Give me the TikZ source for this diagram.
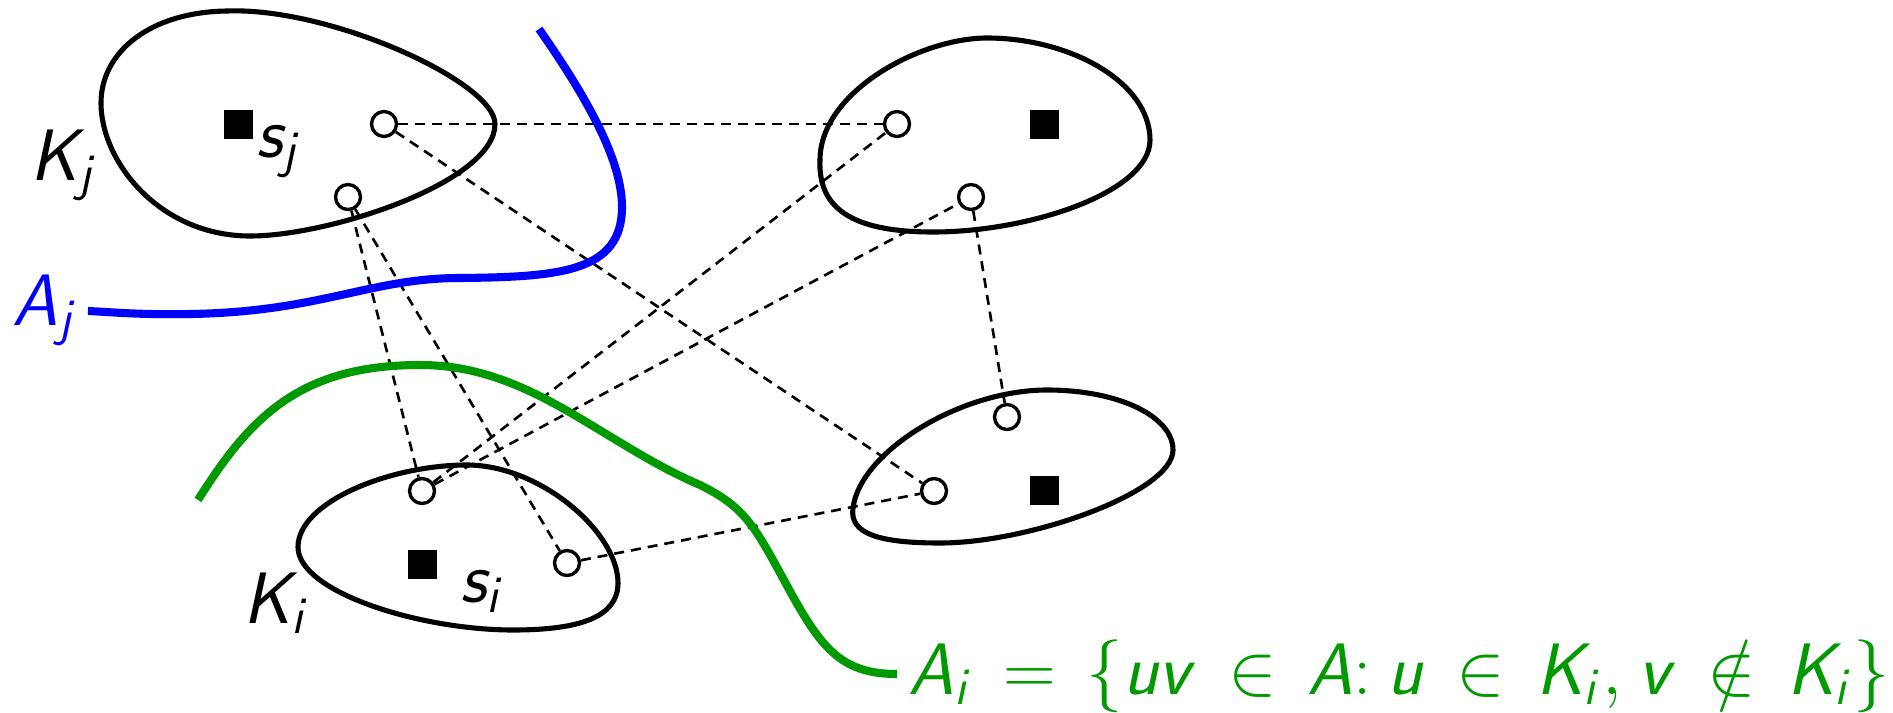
\documentclass[tikz,border=0pt]{standalone}
\usetikzlibrary{positioning}
% sans slanted letters in math
\DeclareSymbolFont{sfit}{OT1}{cmss}{m}{sl}
\DeclareMathSymbol{A}{\mathalpha}{sfit}{`A}
\DeclareMathSymbol{K}{\mathalpha}{sfit}{`K}
\DeclareMathSymbol{s}{\mathalpha}{sfit}{`s}
\DeclareMathSymbol{i}{\mathalpha}{sfit}{`i}
\DeclareMathSymbol{j}{\mathalpha}{sfit}{`j}
\DeclareMathSymbol{u}{\mathalpha}{sfit}{`u}
\DeclareMathSymbol{v}{\mathalpha}{sfit}{`v}
\definecolor{cutgreen}{RGB}{0,153,0}
\pgfkeys{/tikz/.cd,
    overall style/.style={
        line join=round,
        font=\fontsize{21}{25}\selectfont
    },
    blob/.style={line width=1.45pt},              % outline of a component
    vtx/.style={circle, draw, fill=white, line width=0.95pt, minimum size=0.25cm, inner sep=0pt},
    root/.style={rectangle, fill=black, minimum size=0.29cm, inner sep=0pt},
    arc/.style={dash pattern=on 0.1cm off 0.07cm, line width=0.75pt},
    cut/.style={line width=2.3pt},
    lbl/.style={inner sep=0pt, anchor=base west}
}

\begin{document}
\begin{tikzpicture}[overall style]
    \useasboundingbox (0,0) rectangle (18.93,7.12);

    % --- 1. components ---
    \draw[blob] (4.95,5.88) .. controls (4.95,6.30) and (3.30,7.05) .. (2.27,7.01)
        .. controls (1.50,7.00) and (1.01,6.60) .. (1.01,6.09)
        .. controls (1.01,5.50) and (1.60,4.76) .. (2.50,4.76)
        .. controls (3.30,4.76) and (4.95,5.30) .. cycle;
    \draw[blob] (8.20,5.52) .. controls (8.20,6.20) and (9.20,6.74) .. (9.87,6.74)
        .. controls (10.70,6.74) and (11.50,6.30) .. (11.50,5.72)
        .. controls (11.50,5.20) and (10.30,4.80) .. (9.33,4.80)
        .. controls (8.50,4.80) and (8.18,5.05) .. cycle;
    \draw[blob] (8.53,2.04) .. controls (8.60,2.60) and (9.60,3.22) .. (10.47,3.22)
        .. controls (11.20,3.22) and (11.73,2.95) .. (11.73,2.62)
        .. controls (11.73,2.20) and (10.30,1.69) .. (9.40,1.69)
        .. controls (8.80,1.69) and (8.49,1.78) .. cycle;
    \draw[blob] (2.98,1.65) .. controls (2.98,2.10) and (3.90,2.47) .. (4.67,2.47)
        .. controls (5.40,2.47) and (6.18,1.80) .. (6.18,1.29)
        .. controls (6.18,0.95) and (5.80,0.82) .. (5.13,0.82)
        .. controls (4.20,0.82) and (2.98,1.20) .. cycle;

    % --- 2. roots and vertices ---
    \foreach \name/\x/\y in {sj/2.38/5.88, sa/10.44/5.88, sb/10.44/2.22, si/4.22/1.48}
        \node[root] (\name) at (\x,\y) {};

    \foreach \name/\x/\y in {cj1/3.84/5.88, cj2/3.48/5.15, ca1/8.97/5.88, ca2/9.71/5.15,
                             cb1/10.07/2.95, cb2/9.34/2.21, ci1/4.22/2.21, ci2/5.67/1.49}
        \node[vtx] (\name) at (\x,\y) {};

    % --- 3. arcs ---
    \foreach \a/\b in {cj1/ca1, cj1/cb2, cj2/ci1, cj2/ci2, ci1/ca1, ci1/ca2, ca2/cb1, ci2/cb2}
        \draw[arc] (\a) -- (\b);

    % --- 4. cuts ---
    \draw[cut, blue] (5.39,6.83) .. controls (5.90,6.10) and (6.22,5.50) .. (6.22,5.05)
        .. controls (6.22,4.40) and (5.60,4.35) .. (4.60,4.34)
        .. controls (3.70,4.34) and (3.20,4.00) .. (1.90,3.98)
        .. controls (1.40,3.97) and (1.10,4.00) .. (0.88,4.01);
    \draw[cut, cutgreen] (1.98,2.12) .. controls (2.50,2.95) and (3.00,3.47) .. (4.20,3.47)
        .. controls (5.30,3.47) and (6.00,2.70) .. (7.00,2.27)
        .. controls (7.45,2.05) and (7.55,1.85) .. (7.85,1.30)
        .. controls (8.20,0.65) and (8.40,0.38) .. (8.97,0.38);

    % --- 5. labels ---
    \node[lbl] (Kj) at (0.30,5.32) {$K_j$};
    \node[lbl] (lsj) at (2.56,5.55) {$s_j$};
    \node[lbl, text=blue] (Aj) at (0.12,3.87) {$A_j$};
    \node[lbl] (Ki) at (2.43,0.89) {$K_i$};
    \node[lbl] (lsi) at (4.60,1.10) {$s_i$};
    \node[lbl, text=cutgreen] (Ai) at (9.08,0.18)
        {$\thickmuskip=7.6mu \thinmuskip=4mu A_i = \{uv \in A\colon u \in K_i, v \notin K_i\}$};

\end{tikzpicture}
\end{document}
